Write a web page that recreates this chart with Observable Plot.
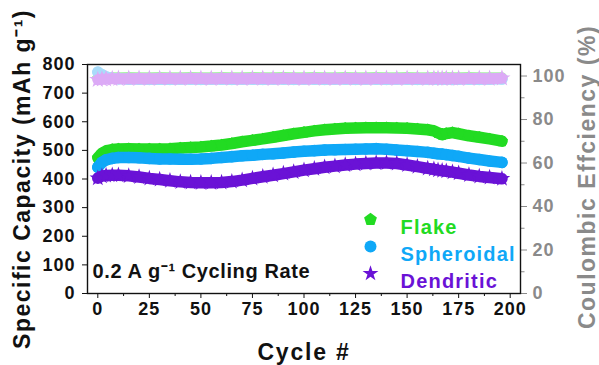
<!DOCTYPE html>
<html><head><meta charset="utf-8">
<script src="https://cdn.jsdelivr.net/npm/d3@7"></script>
<script src="https://cdn.jsdelivr.net/npm/@observablehq/plot@0.6"></script>
<style>
body{margin:0;background:#fff}
</style>
</head><body><div id="chart"></div>
<script>
// ---- data ----
const cycles = [0, 2, 4, 7, 10, 15, 20, 25, 30, 35, 40, 45, 50, 55, 60, 65, 70, 75, 80, 85, 90, 95, 100, 105, 110, 115, 120, 125, 130, 135, 140, 145, 150, 155, 160, 163, 165, 167, 169, 172, 175, 180, 185, 190, 196];
const flakeCap = [474, 490, 498, 503, 505, 506, 505, 505, 505, 506, 508, 510, 512, 515, 519, 524, 530, 535, 540, 546, 552, 558, 563, 568, 572, 575, 577, 578, 579, 579, 579, 578, 577, 575, 572, 568, 561, 555, 559, 562, 558, 551, 546, 540, 532];
const spheroidalCap = [441, 458, 467, 472, 475, 475, 474, 472, 470, 470, 469, 469, 470, 472, 475, 478, 481, 483, 486, 488, 491, 494, 497, 499, 501, 502, 503, 504, 505, 506, 504, 501, 499, 496, 493, 490, 488, 487, 485, 482, 479, 473, 468, 463, 458];
const dendriticCap = [403, 410, 412, 413, 413, 411, 407, 402, 398, 394, 390, 388, 387, 387, 388, 391, 396, 402, 408, 413, 419, 425, 431, 436, 441, 445, 449, 452, 454, 456, 456, 454, 449, 443, 437, 434, 431, 429, 427, 424, 420, 414, 409, 405, 401];
const flakeCE = [98.9, 99.1, 99.2, 99.2, 99.2, 99.3, 99.2, 99.2, 99.3, 99.2, 99.2, 99.3, 99.2, 99.2, 99.3, 99.2, 99.2, 99.3, 99.2, 99.2, 99.3, 99.2, 99.2, 99.3, 99.2, 99.2, 99.3, 99.2, 99.2, 99.3, 99.2, 99.2, 99.3, 99.2, 99.2, 99.3, 99.2, 99.2, 99.3, 99.2, 99.2, 99.3, 99.2, 99.2, 99.2];
const spheroidalCE = [101.8, 100.6, 99.6, 99.0, 98.7, 98.5, 98.5, 98.4, 98.5, 98.4, 98.5, 98.5, 98.4, 98.5, 98.5, 98.4, 98.5, 98.5, 98.4, 98.5, 98.5, 98.4, 98.5, 98.5, 98.4, 98.5, 98.5, 98.4, 98.5, 98.5, 98.4, 98.5, 98.5, 98.4, 98.5, 98.5, 98.4, 98.5, 98.5, 98.4, 98.5, 98.5, 98.4, 98.5, 98.6];
const dendriticCE = [98.3, 98.5, 98.6, 98.7, 98.8, 98.8, 98.9, 98.8, 98.9, 98.9, 98.8, 98.9, 98.9, 98.8, 98.9, 98.9, 98.8, 98.9, 98.9, 98.8, 98.9, 98.9, 98.8, 98.9, 98.9, 98.8, 98.9, 98.9, 98.8, 98.9, 98.9, 98.8, 98.9, 98.9, 98.8, 98.9, 98.9, 98.8, 98.9, 98.9, 98.8, 98.9, 98.9, 98.8, 99.0];

const seriesNames = ["Flake", "Spheroidal", "Dendritic"];
const xTicks = [0, 25, 50, 75, 100, 125, 150, 175, 200];
const xMinorTicks = [12.5, 37.5, 62.5, 87.5, 112.5, 137.5, 162.5, 187.5];
const capTicks = [0, 100, 200, 300, 400, 500, 600, 700, 800];
const ceTicks = [0, 20, 40, 60, 80, 100];
const ceMinorTicks = [10, 30, 50, 70, 90];
const xLabel = "Cycle #";
const yLabel = "Specific Capacity (mAh g\u207B\u00B9)";
const y2Label = "Coulombic Effciency (%)";
const rateLabel = "0.2 A g\u207B\u00B9 Cycling Rate";

// ---- scales / styles ----
const capDomain = [0, 800];
const ceDomain = [0, 105.3];
const toCap = v => v * capDomain[1] / ceDomain[1];
const font = "'Liberation Sans', Arial, sans-serif";

const pentagon = {
  draw(context, size) {
    const r = Math.sqrt(size / Math.PI) * 1.12;
    for (let i = 0; i < 5; i++) {
      const a = -Math.PI / 2 + i * 2 * Math.PI / 5;
      const x = r * Math.cos(a), y = r * Math.sin(a);
      if (i === 0) context.moveTo(x, y); else context.lineTo(x, y);
    }
    context.closePath();
  }
};

const capSeries = [
  {name: seriesNames[0], values: flakeCap, color: "#22db22", symbol: pentagon, r: 5.6},
  {name: seriesNames[1], values: spheroidalCap, color: "#0fa8f7", symbol: "circle", r: 5.8},
  {name: seriesNames[2], values: dendriticCap, color: "#6a12d6", symbol: "star", r: 5.2}
];
const ceSeries = [
  {name: seriesNames[0], values: flakeCE, color: "#a6f0a6", symbol: pentagon, r: 5.4},
  {name: seriesNames[1], values: spheroidalCE, color: "#a9dcfa", symbol: "circle", r: 5.8},
  {name: seriesNames[2], values: dendriticCE, color: "#dcaaf6", symbol: "star", r: 5.4}
];

const rows = (s, conv) => cycles.map((c, i) => ({cycle: c, v: conv(s.values[i])}));

const marks = [];
for (const s of capSeries) {
  const data = rows(s, v => v);
  marks.push(Plot.line(data, {x: "cycle", y: "v", stroke: s.color, strokeWidth: 11.5, strokeLinecap: "round", strokeLinejoin: "round"}));
  marks.push(Plot.dot(data, {x: "cycle", y: "v", fill: s.color, symbol: s.symbol, r: s.r}));
}
for (const s of ceSeries) {
  const data = rows(s, toCap);
  marks.push(Plot.line(data, {x: "cycle", y: "v", stroke: s.color, strokeWidth: 11, strokeLinecap: "round", strokeLinejoin: "round"}));
  marks.push(Plot.dot(data, {x: "cycle", y: "v", fill: s.color, symbol: s.symbol, r: s.r}));
}

// legend
capSeries.forEach((s, i) => {
  marks.push(Plot.dot([s.name], {frameAnchor: "top-left", dx: 283, dy: 155 + i * 27, fill: s.color, symbol: s.symbol, r: s.symbol === "star" ? 5 : 6}));
  marks.push(Plot.text([s.name], {text: d => d, frameAnchor: "top-left", dx: 313, dy: 155 + i * 27, textAnchor: "start", fill: s.color, fontSize: 20, fontWeight: "bold"}));
});

const chart = Plot.plot({
  width: 599,
  height: 365,
  marginLeft: 87,
  marginRight: 79,
  marginTop: 64,
  marginBottom: 72,
  style: {fontFamily: font, background: "white"},
  x: {domain: [-5, 205]},
  y: {domain: capDomain},
  marks: [
    ...marks,
    Plot.text([rateLabel], {text: d => d, frameAnchor: "bottom-left", dx: 5, dy: -16, textAnchor: "start", fill: "#111", fontSize: 20, fontWeight: "bold"}),
    Plot.axisX({ticks: xTicks, tickSize: 5, tickPadding: 4, fontSize: 18, fontWeight: "bold", color: "#111", label: null}),
    Plot.axisX({ticks: xMinorTicks, tickSize: 3, tickFormat: () => "", color: "#111", label: null}),
    Plot.axisY({ticks: capTicks, tickSize: 5, tickPadding: 7, fontSize: 18, fontWeight: "bold", color: "#111", label: null}),
    Plot.axisY({anchor: "right", ticks: ceTicks.map(toCap), tickFormat: d => String(Math.round(d * ceDomain[1] / capDomain[1])), tickSize: 6, tickPadding: 6, fontSize: 18, fontWeight: "bold", color: "#8a8a8a", label: null}),
    Plot.axisY({anchor: "right", ticks: ceMinorTicks.map(toCap), tickFormat: () => "", tickSize: 3.5, color: "#8a8a8a", label: null}),
    Plot.frame({stroke: "#111", strokeWidth: 1.4}),
    Plot.text([yLabel], {text: d => d, frameAnchor: "left", textAnchor: "middle", lineAnchor: "middle", dx: -65, rotate: -90, fill: "#111", fontSize: 23, fontWeight: "bold"}),
    Plot.text([y2Label], {text: d => d, frameAnchor: "right", textAnchor: "middle", lineAnchor: "middle", dx: 67, dy: -2, rotate: -90, fill: "#8a8a8a", fontSize: 23, fontWeight: "bold"}),
    Plot.text([xLabel], {text: d => d, frameAnchor: "bottom", textAnchor: "middle", lineAnchor: "middle", dy: 59, fill: "#111", fontSize: 23, fontWeight: "bold"})
  ]
});

// letter spacing to approximate the wider glyphs of the original
d3.select(chart).selectAll("text").each(function() {
  const t = this.textContent;
  let ls = 1;
  if (t === yLabel || t === y2Label) ls = 1.5;
  else if (t === xLabel) ls = 1.8;
  else if (t === rateLabel) ls = 0.6;
  else if (seriesNames.includes(t)) ls = 1.2;
  this.setAttribute("letter-spacing", ls);
});
document.getElementById("chart").appendChild(chart);
</script>
</body></html>
